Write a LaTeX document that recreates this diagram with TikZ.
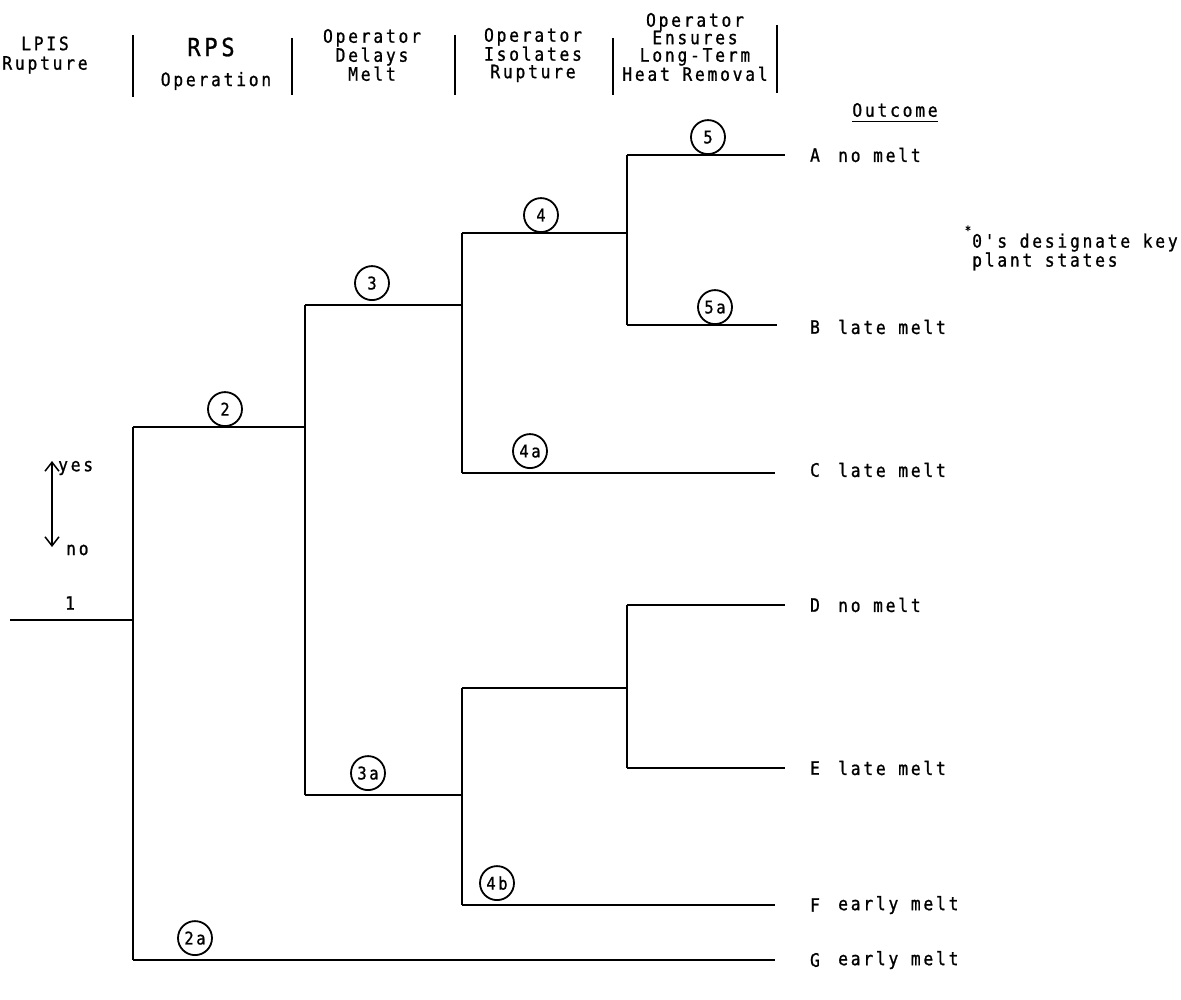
\documentclass[tikz,border=0pt]{standalone}
\usepackage{fontspec}
\newfontfamily\typefont[LetterSpace=15, FakeStretch=0.88, FakeBold=1]{DejaVu Sans Mono}
\usetikzlibrary{arrows.meta}

\tikzset{
  txt/.style={font=\typefont\fontsize{18.5}{17.5}\selectfont, inner sep=0pt},
  hdr/.style={txt, align=center},
  sep/.style={line width=1.8pt},
  branch/.style={line width=2pt},
  state/.style={circle, draw, line width=1.8pt, minimum size=34pt, inner sep=0pt,
                font=\typefont\fontsize{17.5}{17.5}\selectfont},
  endlab/.style={txt, anchor=west},
  letter/.style={txt},
  barb/.tip={Straight Barb[length=9pt,width=14pt,line width=1.5pt]}
}

\begin{document}
\begin{tikzpicture}[x=1pt, y=-1pt]
\useasboundingbox (0,0) rectangle (1181,1000);

% ---- column headings
\node[hdr, font=\typefont\fontsize{18.5}{19.5}\selectfont] (h1) at (45,55) {LPIS\\Rupture};
\node[txt, font=\typefont\fontsize{25}{25}\selectfont] (h2a) at (211,47) {RPS};
\node[txt] (h2b) at (216,81) {Operation};
\node[hdr] (h3) at (372,55) {Operator\\Delays\\Melt};
\node[hdr] (h4) at (533,55) {Operator\\Isolates\\Rupture};
\node[hdr] (h5) at (695,47) {Operator\\Ensures\\Long-Term\\Heat Removal};

\foreach \x/\a/\b in {133/35/97, 292/38/95, 455/35/95, 613/38/95, 777/25/93}
  \draw[sep] (\x,\a) -- (\x,\b);

\node[txt] (out) at (895,110) {Outcome};
\draw[line width=1.2pt] ([yshift=-4pt]out.south west) -- ([yshift=-4pt]out.south east);

% ---- branch points of the event tree
\coordinate (s)   at (10,620);
\coordinate (j1)  at (133,620);
\coordinate (j1t) at (133,427);
\coordinate (j1b) at (133,960);
\coordinate (j2)  at (305,427);
\coordinate (j2t) at (305,305);
\coordinate (j2b) at (305,795);
\coordinate (j3)  at (462,305);
\coordinate (j3t) at (462,233);
\coordinate (j3b) at (462,473);
\coordinate (j4)  at (627,233);
\coordinate (j4t) at (627,155);
\coordinate (j4b) at (627,325);
\coordinate (k3)  at (462,795);
\coordinate (k3t) at (462,688);
\coordinate (k3b) at (462,905);
\coordinate (k4)  at (627,688);
\coordinate (k4t) at (627,605);
\coordinate (k4b) at (627,768);
\coordinate (eA) at (785,155);
\coordinate (eB) at (777,325);
\coordinate (eC) at (775,473);
\coordinate (eD) at (785,605);
\coordinate (eE) at (785,768);
\coordinate (eF) at (775,905);
\coordinate (eG) at (775,960);

\draw[branch] (s) -- (j1);
\draw[branch] (j1t) -- (j1b);
\draw[branch] (j1t) -- (j2);
\draw[branch] (j1b) -- (eG);
\draw[branch] (j2t) -- (j2b);
\draw[branch] (j2t) -- (j3);
\draw[branch] (j2b) -- (k3);
\draw[branch] (j3t) -- (j3b);
\draw[branch] (j3t) -- (j4);
\draw[branch] (j3b) -- (eC);
\draw[branch] (j4t) -- (j4b);
\draw[branch] (j4t) -- (eA);
\draw[branch] (j4b) -- (eB);
\draw[branch] (k3t) -- (k3b);
\draw[branch] (k3t) -- (k4);
\draw[branch] (k3b) -- (eF);
\draw[branch] (k4t) -- (k4b);
\draw[branch] (k4t) -- (eD);
\draw[branch] (k4b) -- (eE);

\node[txt] (n1) at (70,603) {1};

% ---- key plant states
\node[state, anchor=south] (c2)  at (225,427) {2};
\node[state, anchor=south] (c2a) at (195,956) {2a};
\node[state, anchor=south] (c3)  at (372,301) {3};
\node[state, anchor=south] (c3a) at (368,791) {3a};
\node[state, anchor=south] (c4)  at (541,233) {4};
\node[state, anchor=south] (c4a) at (530,469) {4a};
\node[state, anchor=south] (c4b) at (497,901) {4b};
\node[state, anchor=south] (c5)  at (708,155) {5};
\node[state, anchor=south] (c5a) at (715,325) {5a};

% ---- outcomes
\foreach \n/\y/\t in {A/155/no melt, B/327/late melt, C/470/late melt,
                      D/605/no melt, E/768/late melt, F/905/early melt,
                      G/960/early melt}{
  \node[letter] (l\n) at (815,\y) {\n};
  \node[endlab] (o\n) at (838,\y) {\t};
}

% ---- yes / no key
\coordinate (yn1) at (52,461);
\coordinate (yn2) at (52,547);
\draw[line width=1.5pt, barb-barb] (yn1) -- (yn2);
\node[txt, anchor=west] (yes) at (58,468) {yes};
\node[txt, anchor=west] (no) at (66,550) {no};

% ---- note
\node[txt, font=\typefont\fontsize{12}{12}\selectfont] (star) at (968,230) {*};
\node[txt, anchor=west, align=left, font=\typefont\fontsize{18.5}{19}\selectfont] (note) at (972,252) {0's designate key\\plant states};

\end{tikzpicture}
\end{document}
